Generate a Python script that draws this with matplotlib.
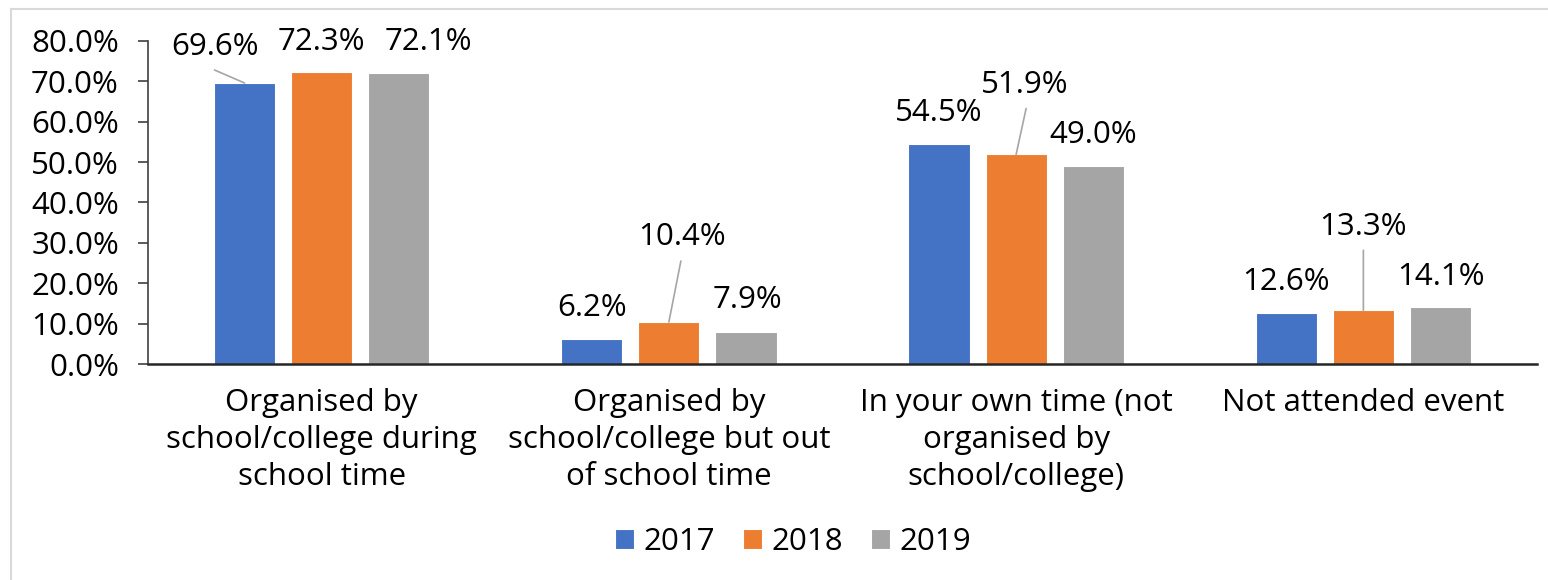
import numpy as np
import matplotlib
matplotlib.use('Agg')
import matplotlib.pyplot as plt
from matplotlib.lines import Line2D
from matplotlib.ticker import FuncFormatter

plt.rcParams['font.family'] = ['Open Sans', 'DejaVu Sans']

categories = [
    'Organised by\nschool/college during\nschool time',
    'Organised by\nschool/college but out\nof school time',
    'In your own time (not\norganised by\nschool/college)',
    'Not attended event',
]
years = ['2017', '2018', '2019']
values_2017 = [69.6, 6.2, 54.5, 12.6]
values_2018 = [72.3, 10.4, 51.9, 13.3]
values_2019 = [72.1, 7.9, 49.0, 14.1]
yticks = [0, 10, 20, 30, 40, 50, 60, 70, 80]

colors = ['#4472C4', '#ED7D31', '#A5A5A5']

# label offsets (pixels) from bar top, and leader start offsets where used
label_offsets = {
    (0, 0): (-30, 36), (0, 1): (0, 30), (0, 2): (30, 31),
    (1, 1): (13, 85), (1, 2): (1, 32),
    (2, 1): (9, 69),
    (3, 1): (0, 83), (3, 2): (0, 30),
}
leader_starts = {(0, 0): (-30, 13), (1, 1): (12, 61), (2, 1): (10, 46), (3, 1): (0, 60)}

W, H = 1548, 580
fig = plt.figure(figsize=(W / 100, H / 100), dpi=100)
ax = fig.add_axes([148 / W, 1 - 364 / H, (1537 - 148) / W, (364 - 41) / H])

x = np.arange(len(categories))
series = [values_2017, values_2018, values_2019]
step = 0.222
width = 0.176
fs = 22.5

for i, vals in enumerate(series):
    pos = x + (i - 1) * step
    ax.bar(pos, vals, width, color=colors[i], edgecolor='white', linewidth=0.8,
           label=years[i], zorder=2)
    for j, v in enumerate(vals):
        dx, dy = label_offsets.get((j, i), (0, 31))
        ax.annotate('%.1f%%' % v, xy=(pos[j], v), xytext=(dx, dy),
                    textcoords='offset pixels', ha='center', va='center',
                    fontsize=fs, color='black', annotation_clip=False)
        if (j, i) in leader_starts:
            lx, ly = leader_starts[(j, i)]
            ax.annotate('', xy=(pos[j], v), xytext=(lx, ly),
                        textcoords='offset pixels', annotation_clip=False,
                        arrowprops=dict(arrowstyle='-', color='#A5A5A5', lw=1.2,
                                        shrinkA=0, shrinkB=0))

ax.set_xlim(-0.5, len(categories) - 0.5)
ax.set_ylim(0, 80)
ax.set_yticks(yticks)
ax.yaxis.set_major_formatter(FuncFormatter(lambda v, p: '%.1f%%' % v))
ax.set_xticks(x)
ax.set_xticklabels(categories, fontsize=fs, linespacing=1.32)

for s in ['top', 'right']:
    ax.spines[s].set_visible(False)
ax.spines['left'].set_color('#404040')
ax.spines['left'].set_linewidth(1.2)
ax.spines['bottom'].set_color('#262626')
ax.spines['bottom'].set_linewidth(1.8)
ax.tick_params(axis='y', length=7, width=1.2, color='#404040', pad=14, labelsize=fs)
ax.tick_params(axis='x', length=0, pad=17)

leg = fig.legend(loc='center', bbox_to_anchor=(793 / W, 1 - 542 / H), ncol=3,
                 frameon=False, fontsize=fs, handlelength=0.6, handleheight=0.6,
                 handletextpad=0.3, columnspacing=0.9)

# chart frame (light grey)
fig.add_artist(Line2D([11 / W, 1], [1 - 9 / H, 1 - 9 / H], color='#D9D9D9', lw=1.5))
fig.add_artist(Line2D([11 / W, 11 / W], [0, 1 - 9 / H], color='#D9D9D9', lw=1.5))

fig.savefig('out.png', dpi=100)
